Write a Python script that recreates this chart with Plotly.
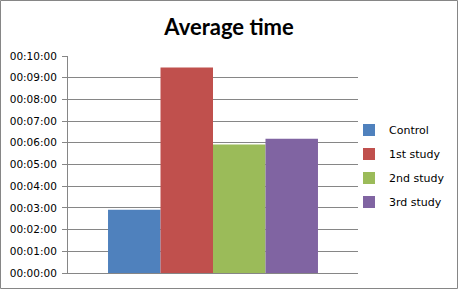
import plotly.graph_objects as go

series = ["Control", "1st study", "2nd study", "3rd study"]
times = ["00:02:55", "00:09:28", "00:05:55", "00:06:11"]
colors = ["#4F81BD", "#C0504D", "#9BBB59", "#8064A2"]
tick_labels = ["00:00:00", "00:01:00", "00:02:00", "00:03:00", "00:04:00", "00:05:00",
               "00:06:00", "00:07:00", "00:08:00", "00:09:00", "00:10:00"]

def to_sec(s):
    h, m, sec = (int(p) for p in s.split(":"))
    return h * 3600 + m * 60 + sec

tick_vals = [to_sec(t) for t in tick_labels]

W, H = 458, 289
L, R, T, B = 68, 100, 56, 16

fig = go.Figure()
for name, t, c in zip(series, times, colors):
    fig.add_trace(go.Bar(x=[""], y=[to_sec(t)], name=name, marker=dict(color=c, line=dict(width=0)),
                         legendgroup=name, hoverinfo="skip"))

pw, ph = W - L - R, H - T - B
fig.add_shape(type="rect", xref="paper", yref="paper",
              x0=(0.5 - L) / pw, x1=(W - 0.5 - L) / pw,
              y0=(-B + 0.5) / ph, y1=(H - B - 0.5) / ph,
              line=dict(color="#868686", width=1))

fig.update_layout(
    width=W, height=H,
    margin=dict(l=L, r=R, t=T, b=B, pad=0, autoexpand=False),
    paper_bgcolor="white", plot_bgcolor="white",
    barmode="group", bargap=0.276, bargroupgap=0,
    title=dict(text="<b>Average time</b>", x=0.5, xref="container", xanchor="center",
               y=1 - 27 / H, yanchor="middle",
               font=dict(family="Lato", size=22, color="black")),
    font=dict(family="DejaVu Sans", size=10, color="black"),
    showlegend=True,
    legend=dict(x=(349 - L) / pw, xanchor="left", y=0.5 - 1.5 / ph, yanchor="middle",
                font=dict(family="DejaVu Sans", size=11, color="black"),
                traceorder="grouped", tracegroupgap=5, itemwidth=30,
                borderwidth=0, bgcolor="rgba(0,0,0,0)"),
    xaxis=dict(showticklabels=False, showline=True, linecolor="#868686", linewidth=1,
               ticks="", showgrid=False, range=[-0.5, 0.5], automargin=False),
    yaxis=dict(range=[0, 600], tickvals=tick_vals, ticktext=tick_labels, automargin=False,
               showline=True, linecolor="#868686", linewidth=1,
               ticks="outside", ticklen=5, tickcolor="#868686", ticklabelstandoff=3,
               showgrid=True, gridcolor="#868686", gridwidth=1,
               zeroline=False, tickfont=dict(family="DejaVu Sans", size=10.5, color="black")),
)

fig.write_html("out.html", config={"displayModeBar": False},
               post_script="document.body.style.margin='0';")
